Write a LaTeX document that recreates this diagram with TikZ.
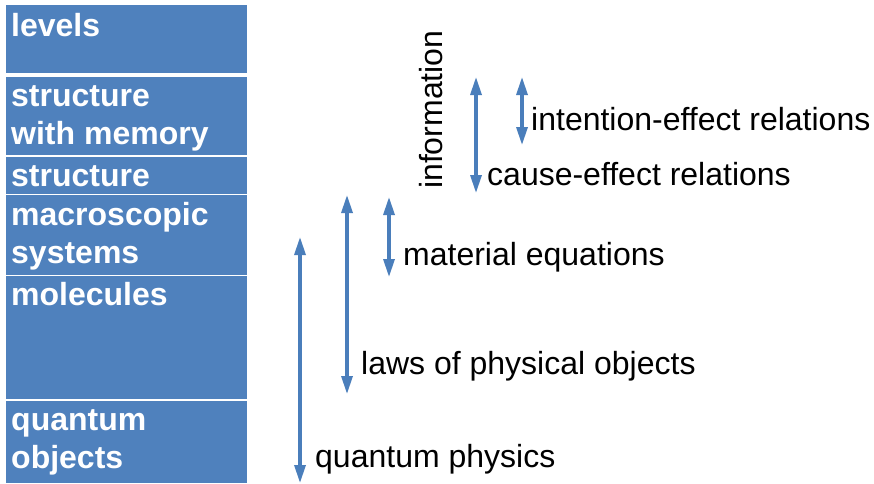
\documentclass[tikz,border=0pt]{standalone}
\usepackage{fontspec}
\setmainfont{Liberation Sans}
\usetikzlibrary{arrows.meta}
\definecolor{boxblue}{HTML}{4F81BD}
\definecolor{arrblue}{HTML}{4A7EBB}
\begin{document}
\begin{tikzpicture}[x=1pt,y=-1pt,
  level/.style={fill=boxblue,draw=none},
  leveltext/.style={anchor=base west,inner sep=0pt,text=white,font=\fontsize{32}{38}\selectfont\bfseries,align=left},
  lab/.style={anchor=base west,inner sep=0pt,text=black,font=\fontsize{32}{38}\selectfont},
  darr/.style={draw=arrblue,line width=3.2pt,{Triangle[width=11pt,length=18pt]}-{Triangle[width=11pt,length=18pt]},shorten <=0pt,shorten >=0pt}]
\useasboundingbox (0,0) rectangle (874,483);
\fill[white] (0,0) rectangle (874,483);
% level boxes
\fill[level] (6,5) rectangle (247,73);
\fill[level] (6,77) rectangle (247,155);
\fill[level] (6,156.5) rectangle (247,193.5);
\fill[level] (6,195) rectangle (247,274.5);
\fill[level] (6,276) rectangle (247,399);
\fill[level] (6,400.5) rectangle (247,483);
\node[leveltext] (lv) at (11,36) {levels};
\node[leveltext] (swm) at (11,144) {structure\\with memory};
\node[leveltext] (st) at (11,186) {structure};
\node[leveltext] (mac) at (11,263) {macroscopic\\systems};
\node[leveltext] (mol) at (11,305) {molecules};
\node[leveltext] (qo) at (11,468) {quantum\\objects};
% arrows
\coordinate (qt) at (300,237);
\coordinate (qb) at (300,483);
\coordinate (lt) at (347,195);
\coordinate (lb) at (347,394);
\coordinate (mt) at (389,197);
\coordinate (mb) at (389,277);
\coordinate (ct) at (476,77);
\coordinate (cb) at (476,193);
\coordinate (it) at (522,77);
\coordinate (ib) at (522,145);
\draw[darr] (qt) -- (qb);
\draw[darr] (lt) -- (lb);
\draw[darr] (mt) -- (mb);
\draw[darr] (ct) -- (cb);
\draw[darr] (it) -- (ib);
% labels
\node[lab] (qp) at (315,467) {quantum physics};
\node[lab] (lp) at (361,374) {laws of physical objects};
\node[lab] (me) at (403,265) {material equations};
\node[lab] (ce) at (487,185) {cause-effect relations};
\node[lab] (ie) at (531,130) {intention-effect relations};
\node[lab,rotate=90] (inf) at (442,189) {information};
\end{tikzpicture}
\end{document}
